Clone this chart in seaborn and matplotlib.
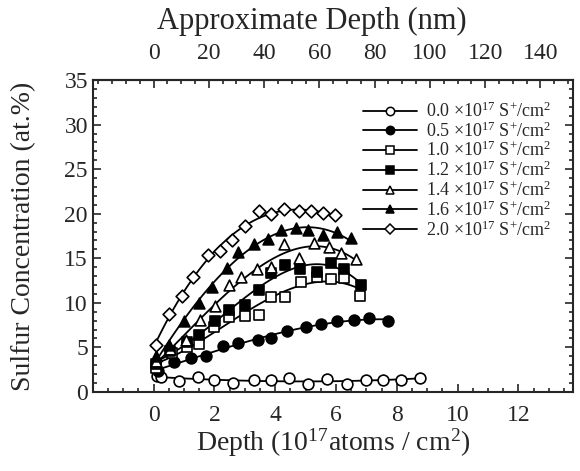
import pandas as pd
import matplotlib.pyplot as plt
from matplotlib.lines import Line2D
from matplotlib.ticker import MultipleLocator
import seaborn as sns

# dose labels (x10^17 S+/cm2)
doses = ["0.0", "0.5", "1.0", "1.2", "1.4", "1.6", "2.0"]
markers = ["o", "o", "s", "s", "^", "^", "D"]
faces = ["white", "black", "white", "black", "white", "black", "white"]

# depth (10^17 atoms/cm2) and sulfur concentration (at.%)
depth_00 = [0.1, 0.24, 0.85, 1.45, 2.0, 2.62, 3.3, 3.87, 4.47, 5.08, 5.69, 6.35, 6.98, 7.55, 8.13, 8.75]
conc_00 = [1.8, 1.7, 1.2, 1.7, 1.3, 1.0, 1.3, 1.3, 1.6, 0.9, 1.4, 0.9, 1.3, 1.35, 1.35, 1.6]

depth_05 = [0.13, 0.68, 1.23, 1.72, 2.27, 2.78, 3.42, 3.86, 4.38, 5.01, 5.5, 6.05, 6.6, 7.09, 7.7]
conc_05 = [2.3, 3.3, 3.8, 4.0, 5.1, 5.5, 5.8, 6.0, 6.8, 7.3, 7.65, 7.9, 8.05, 8.25, 8.0]

depth_10 = [0.08, 0.62, 1.1, 1.5, 2.0, 2.49, 3.0, 3.47, 3.86, 4.32, 4.85, 5.36, 5.83, 6.27, 6.79]
conc_10 = [2.7, 4.4, 5.0, 5.4, 7.3, 8.45, 8.5, 8.6, 10.6, 10.7, 12.3, 12.9, 12.65, 12.75, 10.8]

depth_12 = [0.08, 0.55, 1.1, 1.5, 2.02, 2.49, 3.0, 3.47, 3.86, 4.32, 4.81, 5.36, 5.83, 6.27, 6.82]
conc_12 = [3.1, 4.6, 5.65, 6.4, 7.9, 9.2, 9.75, 11.4, 13.3, 14.25, 13.8, 13.5, 14.5, 13.8, 12.0]

depth_14 = [0.08, 0.55, 1.05, 1.53, 2.02, 2.49, 2.87, 3.4, 3.86, 4.28, 4.77, 5.28, 5.76, 6.16, 6.65]
conc_14 = [3.5, 4.8, 5.85, 8.1, 9.6, 12.0, 12.9, 13.8, 14.0, 16.6, 15.0, 16.75, 16.25, 15.6, 14.9]

depth_16 = [0.08, 0.51, 0.99, 1.5, 1.91, 2.41, 2.78, 3.31, 3.75, 4.19, 4.68, 5.07, 5.56, 6.05, 6.49]
conc_16 = [4.0, 5.3, 7.9, 9.95, 11.8, 13.9, 15.75, 16.6, 17.2, 18.2, 18.4, 18.2, 17.6, 17.9, 17.25]

depth_20 = [0.08, 0.51, 0.92, 1.3, 1.78, 2.19, 2.58, 3.0, 3.47, 3.86, 4.28, 4.77, 5.17, 5.56, 5.97]
conc_20 = [5.3, 8.75, 10.8, 12.95, 15.35, 15.8, 17.0, 18.6, 20.25, 19.95, 20.5, 20.35, 20.25, 20.05, 19.85]

depths = [depth_00, depth_05, depth_10, depth_12, depth_14, depth_16, depth_20]
concs = [conc_00, conc_05, conc_10, conc_12, conc_14, conc_16, conc_20]

rows = []
for d, xs, ys in zip(doses, depths, concs):
    for x, y in zip(xs, ys):
        rows.append({"dose": d, "depth": x, "conc": y})
df = pd.DataFrame(rows)

nm_per_unit = 11.0

sns.set_style("ticks")
plt.rcParams["font.family"] = ["Liberation Serif", "DejaVu Serif"]
plt.rcParams["mathtext.fontset"] = "custom"
plt.rcParams["mathtext.rm"] = "Liberation Serif"
plt.rcParams["mathtext.it"] = "Liberation Serif:italic"

fig = plt.figure(figsize=(5.8, 4.71), dpi=100)
ax = fig.add_axes([0.160, 0.168, 0.828, 0.662])

for d, m, fc in zip(doses, markers, faces):
    sub = df[df["dose"] == d]
    ms = 42 if m == "D" else 60
    sns.regplot(data=sub, x="depth", y="conc", order=3, ci=None, marker=m, ax=ax,
                scatter_kws=dict(s=ms, facecolor=fc, edgecolor="black",
                                 linewidths=1.2, alpha=1, zorder=3),
                line_kws=dict(color="black", lw=1.3, zorder=2))

ax.set_xlim(-2, 13.8)
ax.set_ylim(0, 35)
ax.set_xticks(range(0, 13, 2))
ax.set_yticks(range(0, 36, 5))
ax.xaxis.set_minor_locator(MultipleLocator(0.5))
ax.yaxis.set_minor_locator(MultipleLocator(1))
ax.tick_params(which="both", direction="in", top=False, right=True, labelsize=17, width=1.2)
ax.tick_params(which="major", length=6)
ax.tick_params(which="minor", length=3)
ax.tick_params(axis="x", which="major", pad=9.5)
for s in ax.spines.values():
    s.set_linewidth(1.5)

ax.set_xlabel("Depth (10$^{17}$atoms / cm$^{2}$)", fontsize=20, labelpad=0)
ax.set_ylabel("Sulfur Concentration (at.%)", fontsize=20, labelpad=20)

top = ax.secondary_xaxis("top", functions=(lambda x: x * nm_per_unit, lambda x: x / nm_per_unit))
top.set_xticks(range(0, 141, 20))
top.xaxis.set_minor_locator(MultipleLocator(5))
top.tick_params(which="both", direction="in", labelsize=17, width=1.2)
top.tick_params(which="major", length=6, pad=11.5)
top.tick_params(which="minor", length=3)
top.spines["top"].set_linewidth(1.5)
top.set_xlabel("Approximate Depth (nm)", fontsize=22, labelpad=10, x=0.456)

handles = [Line2D([0], [0], color="black", lw=1.3, marker=m, markersize=6 if m != "D" else 5,
                  markerfacecolor=fc, markeredgecolor="black", markeredgewidth=1.1)
           for m, fc in zip(markers, faces)]
labels = [f"{d} ×10$^{{17}}$ S$^{{+}}$/cm$^{{2}}$" for d in doses]
ax.legend(handles, labels, loc="upper left", bbox_to_anchor=(0.543, 0.96), frameon=False,
          fontsize=13, handlelength=3.0, handletextpad=0.5, labelspacing=0.02, borderpad=0)

plt.savefig("out.png", dpi=100)
